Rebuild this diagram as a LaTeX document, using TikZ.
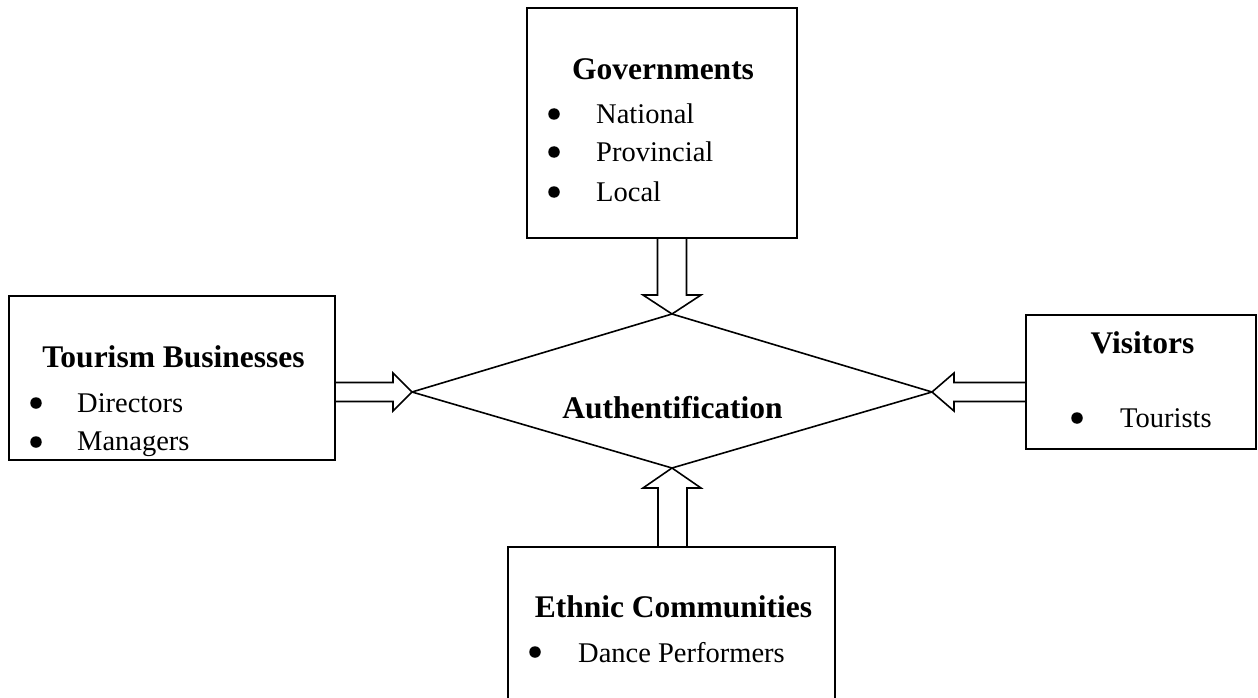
\documentclass[tikz,border=0pt]{standalone}
\usepackage{fontspec}
\setmainfont{Liberation Serif}
\usetikzlibrary{calc}
\begin{document}
\begin{tikzpicture}[x=1pt,y=-1pt,
  box/.style={draw,line width=1.6pt},
  blk/.style={draw,line width=1.6pt,line join=miter,fill=white},
  dia/.style={draw,line width=1.6pt},
  head/.style={font=\fontsize{31.5}{36}\selectfont\bfseries,anchor=base,inner sep=0pt},
  item/.style={font=\fontsize{28.5}{32}\selectfont,anchor=base west,inner sep=0pt},
  bul/.style={circle,fill=black,inner sep=0pt,minimum size=11.5pt}]
\useasboundingbox (0,0) rectangle (1258,698);
\clip (0,0) rectangle (1258,698);
% boxes
\draw[box] (527,8) rectangle (797,238);
\coordinate (govS) at (662,238);
\draw[box] (9,296) rectangle (335,460);
\coordinate (tourE) at (335,378);
\draw[box] (1026,315) rectangle (1256,449);
\coordinate (visW) at (1026,382);
\draw[box] (508,547) rectangle (835,712);
\coordinate (ethN) at (671,547);
% diamond
\coordinate (dT) at (672,314);
\coordinate (dR) at (932,392);
\coordinate (dB) at (672,468);
\coordinate (dL) at (412,392);
\draw[dia] (dT) -- (dR) -- (dB) -- (dL) -- cycle;
% block arrows
\draw[blk] (dT) -- ($(dT)+(-29,-19)$) -- ($(dT)+(-14.5,-19)$) -- ($(dT|-govS)+(-14.5,0)$)
  -- ($(dT|-govS)+(14.5,0)$) -- ($(dT)+(14.5,-19)$) -- ($(dT)+(29,-19)$) -- cycle;
\draw[blk] (dB) -- ($(dB)+(-29,20)$) -- ($(dB)+(-14,20)$) -- ($(dB|-ethN)+(-14,0)$)
  -- ($(dB|-ethN)+(15,0)$) -- ($(dB)+(15,20)$) -- ($(dB)+(29,20)$) -- cycle;
\draw[blk] (dL) -- ($(dL)+(-19,-19)$) -- ($(dL)+(-19,-9.5)$) -- ($(tourE|-dL)+(0,-9.5)$)
  -- ($(tourE|-dL)+(0,9.5)$) -- ($(dL)+(-19,9.5)$) -- ($(dL)+(-19,19)$) -- cycle;
\draw[blk] (dR) -- ($(dR)+(22,-19)$) -- ($(dR)+(22,-9.5)$) -- ($(visW|-dR)+(0,-9.5)$)
  -- ($(visW|-dR)+(0,9.5)$) -- ($(dR)+(22,9.5)$) -- ($(dR)+(22,19)$) -- cycle;
% texts
\node[head] (tgov) at (663,80) {Governments};
\node[bul] (b1) at (554,114) {};
\node[item] (t1) at (596,124) {National};
\node[bul] (b2) at (554,152) {};
\node[item] (t2) at (596,161) {Provincial};
\node[bul] (b3) at (554,192) {};
\node[item] (t3) at (596,201) {Local};
\node[head] (ttour) at (173.5,367) {Tourism Businesses};
\node[bul] (b4) at (36,403) {};
\node[item] (t4) at (77,412) {Directors};
\node[bul] (b5) at (36,442) {};
\node[item] (t5) at (77,450) {Managers};
\node[head] (tvis) at (1142.5,353) {Visitors};
\node[bul] (b6) at (1077,418) {};
\node[item] (t6) at (1120,427) {Tourists};
\node[head] (teth) at (673.5,617) {Ethnic Communities};
\node[bul] (b7) at (535,652) {};
\node[item] (t7) at (578,662) {Dance Performers};
\node[head] (tauth) at (672.5,418) {Authentification};
\end{tikzpicture}
\end{document}
